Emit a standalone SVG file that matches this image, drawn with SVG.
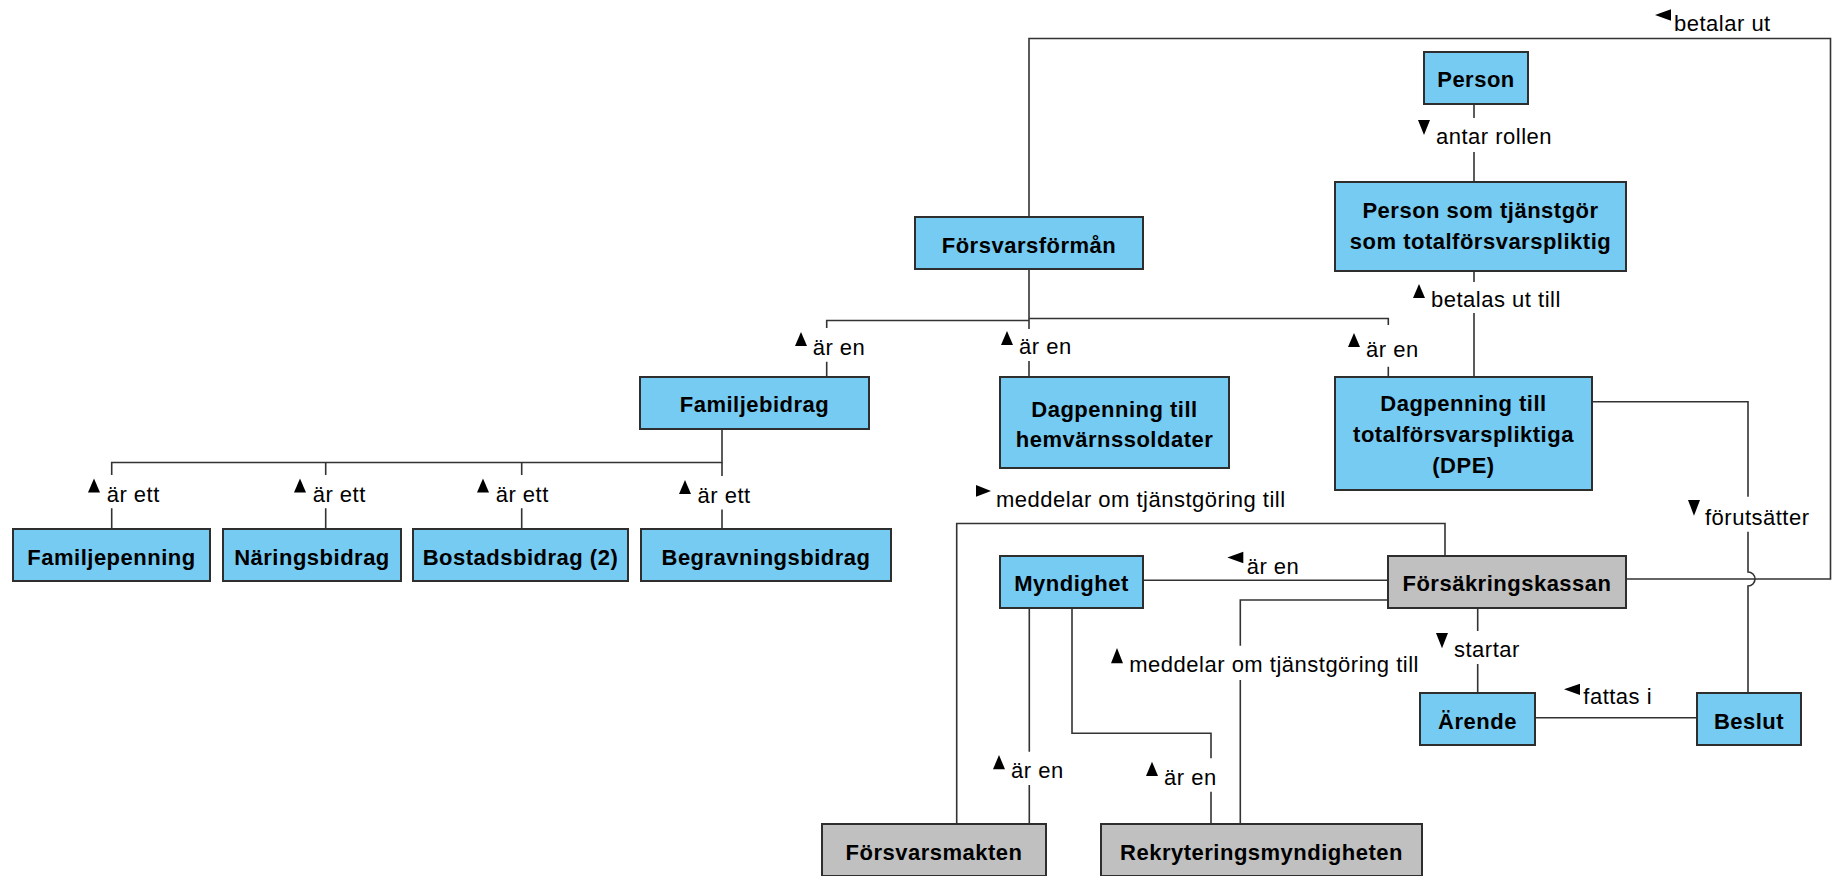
<svg xmlns="http://www.w3.org/2000/svg" width="1832" height="876" viewBox="0 0 1832 876">
<style>
  .nb{fill:#76cbf2;stroke:#2e2e2e;stroke-width:2}
  .ng{fill:#c0c0c0;stroke:#2e2e2e;stroke-width:2}
  .nt{font-family:"Liberation Sans",Arial,sans-serif;font-weight:bold;font-size:22px;letter-spacing:0.5px;fill:#000;text-anchor:middle}
  .lt{font-family:"Liberation Sans",Arial,sans-serif;font-size:22px;letter-spacing:0.5px;fill:#000}
  .cn{fill:none;stroke:#333;stroke-width:1.6}
  .tri{fill:#000}
</style>
<rect x="0" y="0" width="1832" height="876" fill="#fff"/>

<g id="connectors">
  <!-- betalar ut -->
  <path class="cn" d="M1626,579 H1830.5 V38.5 H1029 V217"/>
  <!-- antar rollen -->
  <path class="cn" d="M1474,104 V118 M1474,152 V182"/>
  <!-- betalas ut till -->
  <path class="cn" d="M1474,271 V282 M1474,313 V377"/>
  <!-- Forsvarsforman tree -->
  <path class="cn" d="M1029,269 V329 M1029,361 V377"/>
  <path class="cn" d="M1029,320.5 H826.7 V328 M826.7,361.7 V377"/>
  <path class="cn" d="M1029,318.5 H1388.3 V325 M1388.3,366.7 V377"/>
  <!-- Familjebidrag tree -->
  <path class="cn" d="M722,429 V462.5 H111.7 V475 M111.7,508.3 V529"/>
  <path class="cn" d="M325.7,462.5 V475 M325.7,508.3 V529"/>
  <path class="cn" d="M521.7,462.5 V475 M521.7,508.3 V529"/>
  <path class="cn" d="M722,462.5 V476 M722,509.5 V529"/>
  <!-- forutsatter -->
  <path class="cn" d="M1592,401.7 H1748 V496.7 M1748,531.7 V572 A7,7 0 0 1 1748,586 V693"/>
  <!-- meddelar om tjanstgoring till (upper) -->
  <path class="cn" d="M1445,556 V523.5 H956.7 V824"/>
  <!-- ar en Myndighet - FK -->
  <path class="cn" d="M1143,580.3 H1388"/>
  <!-- meddelar om tjanstgoring till (lower) -->
  <path class="cn" d="M1388,600 H1240.3 V645.7 M1240.3,680 V824"/>
  <!-- ar en Forsvarsmakten -->
  <path class="cn" d="M1029.3,608 V751.7 M1029.3,785 V824"/>
  <!-- ar en Rekryteringsmyndigheten -->
  <path class="cn" d="M1072,608 V733.3 H1211 V758.3 M1211,791.7 V824"/>
  <!-- startar -->
  <path class="cn" d="M1477.7,608 V631 M1477.7,664 V693"/>
  <!-- fattas i -->
  <path class="cn" d="M1535,717.7 H1697"/>
</g>

<g id="labels">
  <polygon class="tri" points="1655,15 1671,9.3 1671,20.7"/>
  <text class="lt" x="1674" y="30.7">betalar ut</text>
  <polygon class="tri" points="1418,120 1430,120 1424,135"/>
  <text class="lt" x="1436" y="144">antar rollen</text>
  <polygon class="tri" points="1413,298 1425,298 1419,284"/>
  <text class="lt" x="1431" y="306.7">betalas ut till</text>
  <polygon class="tri" points="795,346 807,346 801,332"/>
  <text class="lt" x="812.7" y="355">är en</text>
  <polygon class="tri" points="1001,345 1013,345 1007,331"/>
  <text class="lt" x="1019" y="354">är en</text>
  <polygon class="tri" points="1348,347 1360,347 1354,333"/>
  <text class="lt" x="1366" y="356.5">är en</text>
  <polygon class="tri" points="88,492.5 100,492.5 94,478.5"/>
  <text class="lt" x="106.7" y="501.7">är ett</text>
  <polygon class="tri" points="294,492.5 306,492.5 300,478.5"/>
  <text class="lt" x="312.7" y="501.7">är ett</text>
  <polygon class="tri" points="477,492.5 489,492.5 483,478.5"/>
  <text class="lt" x="495.7" y="501.7">är ett</text>
  <polygon class="tri" points="679,494 691,494 685,480"/>
  <text class="lt" x="697.5" y="503">är ett</text>
  <polygon class="tri" points="976,485 976,496.7 991,491"/>
  <text class="lt" x="996" y="506.7">meddelar om tjänstgöring till</text>
  <polygon class="tri" points="1227.3,557.5 1243.3,551.7 1243.3,563.3"/>
  <text class="lt" x="1246.7" y="574">är en</text>
  <polygon class="tri" points="1111,663.3 1123,663.3 1117,648"/>
  <text class="lt" x="1129.3" y="671.7">meddelar om tjänstgöring till</text>
  <polygon class="tri" points="1436,633 1448,633 1442,648.3"/>
  <text class="lt" x="1454" y="657">startar</text>
  <polygon class="tri" points="1564,689.3 1580,683.7 1580,695"/>
  <text class="lt" x="1583.3" y="704.3">fattas i</text>
  <polygon class="tri" points="1688,500 1700,500 1694,515.7"/>
  <text class="lt" x="1705" y="525">förutsätter</text>
  <polygon class="tri" points="993,769.3 1005,769.3 999,755"/>
  <text class="lt" x="1011" y="778.3">är en</text>
  <polygon class="tri" points="1146,776 1158,776 1152,761.7"/>
  <text class="lt" x="1164" y="785">är en</text>
</g>

<g id="person">
  <rect class="nb" x="1424" y="52" width="104" height="52"/>
  <text class="nt" x="1476" y="87.3">Person</text>
</g>
<g id="person-tjanstgor">
  <rect class="nb" x="1335" y="182" width="291" height="89"/>
  <text class="nt" x="1480.5" y="218.3">Person som tjänstgör</text>
  <text class="nt" x="1480.5" y="249.3">som totalförsvarspliktig</text>
</g>
<g id="forsvarsforman">
  <rect class="nb" x="915" y="217" width="228" height="52"/>
  <text class="nt" x="1029" y="253.3">Försvarsförmån</text>
</g>
<g id="familjebidrag">
  <rect class="nb" x="640" y="377" width="229" height="52"/>
  <text class="nt" x="754.5" y="411.7">Familjebidrag</text>
</g>
<g id="dagpenning-hemvarn">
  <rect class="nb" x="1000" y="377" width="229" height="91"/>
  <text class="nt" x="1114.5" y="416.7">Dagpenning till</text>
  <text class="nt" x="1114.5" y="446.7">hemvärnssoldater</text>
</g>
<g id="dpe">
  <rect class="nb" x="1335" y="377" width="257" height="113"/>
  <text class="nt" x="1463.5" y="410.7">Dagpenning till</text>
  <text class="nt" x="1463.5" y="441.7">totalförsvarspliktiga</text>
  <text class="nt" x="1463.5" y="473.3">(DPE)</text>
</g>
<g id="familjepenning">
  <rect class="nb" x="13" y="529" width="197" height="52"/>
  <text class="nt" x="111.5" y="565">Familjepenning</text>
</g>
<g id="naringsbidrag">
  <rect class="nb" x="223" y="529" width="178" height="52"/>
  <text class="nt" x="312" y="565">Näringsbidrag</text>
</g>
<g id="bostadsbidrag">
  <rect class="nb" x="413" y="529" width="215" height="52"/>
  <text class="nt" x="520.5" y="565">Bostadsbidrag (2)</text>
</g>
<g id="begravningsbidrag">
  <rect class="nb" x="641" y="529" width="250" height="52"/>
  <text class="nt" x="766" y="565">Begravningsbidrag</text>
</g>
<g id="myndighet">
  <rect class="nb" x="1000" y="556" width="143" height="52"/>
  <text class="nt" x="1071.5" y="590.7">Myndighet</text>
</g>
<g id="forsakringskassan">
  <rect class="ng" x="1388" y="556" width="238" height="52"/>
  <text class="nt" x="1507" y="590.7">Försäkringskassan</text>
</g>
<g id="arende">
  <rect class="nb" x="1420" y="693" width="115" height="52"/>
  <text class="nt" x="1477.5" y="728.7">Ärende</text>
</g>
<g id="beslut">
  <rect class="nb" x="1697" y="693" width="104" height="52"/>
  <text class="nt" x="1749" y="728.7">Beslut</text>
</g>
<g id="forsvarsmakten">
  <rect class="ng" x="822" y="824" width="224" height="52"/>
  <text class="nt" x="934" y="860">Försvarsmakten</text>
</g>
<g id="rekryteringsmyndigheten">
  <rect class="ng" x="1101" y="824" width="321" height="52"/>
  <text class="nt" x="1261.5" y="860">Rekryteringsmyndigheten</text>
</g>
</svg>
